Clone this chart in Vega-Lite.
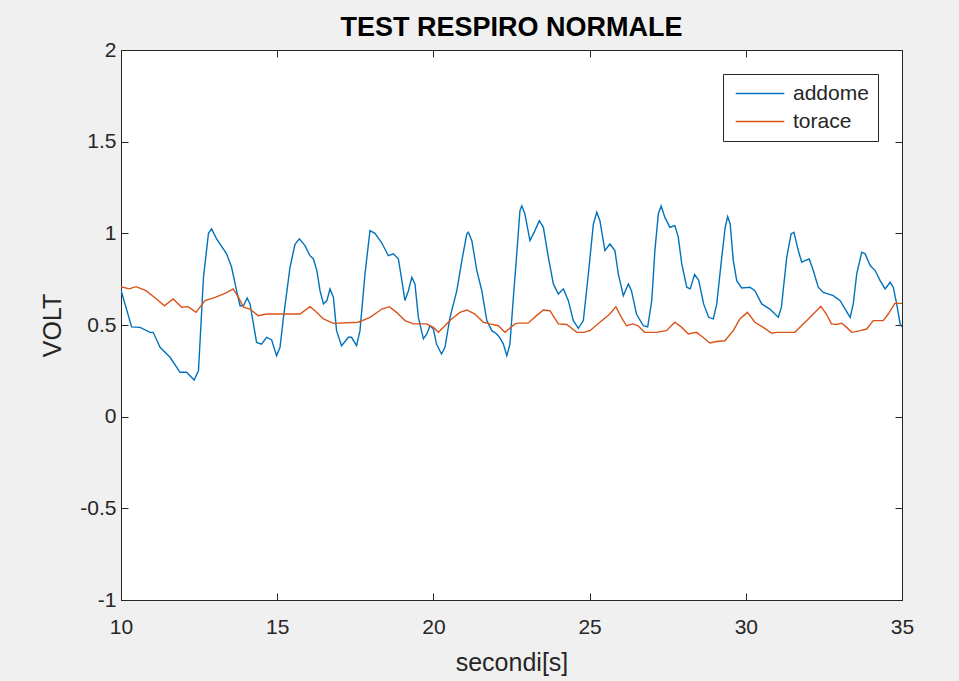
{
  "$schema": "https://vega.github.io/schema/vega-lite/v6.json",
  "autosize": "none",
  "width": 781,
  "height": 550,
  "padding": {"left": 121, "top": 50, "right": 57, "bottom": 81},
  "background": "#f0f0f0",
  "config": {
    "view": {"fill": "white", "stroke": "#262626", "strokeWidth": 1},
    "font": "Liberation Sans",
    "axis": {
      "grid": false,
      "domainColor": "#262626",
      "tickColor": "#262626",
      "tickSize": -7,
      "labelColor": "#262626",
      "labelFontSize": 21,
      "labelFont": "Liberation Sans",
      "titleFont": "Liberation Sans",
      "titleFontSize": 25,
      "titleFontWeight": "normal",
      "titleColor": "#262626"
    }
  },
  "title": {
    "text": "TEST RESPIRO NORMALE",
    "fontSize": 27,
    "fontWeight": "bold",
    "font": "Liberation Sans",
    "color": "#000000",
    "offset": -3
  },
  "datasets": {
    "addome": [
      {"t":10.0,"v":0.69,"s":"addome"},{"t":10.34,"v":0.49,"s":"addome"},{"t":10.61,"v":0.487,"s":"addome"},{"t":10.93,"v":0.46,"s":"addome"},{"t":11.03,"v":0.46,"s":"addome"},{"t":11.25,"v":0.378,"s":"addome"},{"t":11.57,"v":0.324,"s":"addome"},{"t":11.89,"v":0.242,"s":"addome"},{"t":12.1,"v":0.242,"s":"addome"},{"t":12.34,"v":0.2,"s":"addome"},{"t":12.48,"v":0.25,"s":"addome"},{"t":12.64,"v":0.76,"s":"addome"},{"t":12.8,"v":1.0,"s":"addome"},{"t":12.9,"v":1.024,"s":"addome"},{"t":13.06,"v":0.97,"s":"addome"},{"t":13.38,"v":0.888,"s":"addome"},{"t":13.54,"v":0.815,"s":"addome"},{"t":13.7,"v":0.687,"s":"addome"},{"t":13.81,"v":0.605,"s":"addome"},{"t":13.92,"v":0.605,"s":"addome"},{"t":14.04,"v":0.647,"s":"addome"},{"t":14.13,"v":0.615,"s":"addome"},{"t":14.34,"v":0.405,"s":"addome"},{"t":14.5,"v":0.396,"s":"addome"},{"t":14.66,"v":0.433,"s":"addome"},{"t":14.82,"v":0.42,"s":"addome"},{"t":14.98,"v":0.333,"s":"addome"},{"t":15.09,"v":0.378,"s":"addome"},{"t":15.2,"v":0.54,"s":"addome"},{"t":15.41,"v":0.815,"s":"addome"},{"t":15.57,"v":0.94,"s":"addome"},{"t":15.71,"v":0.97,"s":"addome"},{"t":15.89,"v":0.933,"s":"addome"},{"t":16.05,"v":0.878,"s":"addome"},{"t":16.16,"v":0.86,"s":"addome"},{"t":16.27,"v":0.797,"s":"addome"},{"t":16.37,"v":0.687,"s":"addome"},{"t":16.48,"v":0.615,"s":"addome"},{"t":16.59,"v":0.633,"s":"addome"},{"t":16.69,"v":0.697,"s":"addome"},{"t":16.8,"v":0.651,"s":"addome"},{"t":16.9,"v":0.469,"s":"addome"},{"t":17.06,"v":0.387,"s":"addome"},{"t":17.28,"v":0.433,"s":"addome"},{"t":17.38,"v":0.433,"s":"addome"},{"t":17.54,"v":0.387,"s":"addome"},{"t":17.65,"v":0.469,"s":"addome"},{"t":17.81,"v":0.778,"s":"addome"},{"t":17.97,"v":1.015,"s":"addome"},{"t":18.13,"v":1.0,"s":"addome"},{"t":18.34,"v":0.95,"s":"addome"},{"t":18.56,"v":0.878,"s":"addome"},{"t":18.72,"v":0.888,"s":"addome"},{"t":18.88,"v":0.86,"s":"addome"},{"t":18.99,"v":0.742,"s":"addome"},{"t":19.09,"v":0.633,"s":"addome"},{"t":19.2,"v":0.687,"s":"addome"},{"t":19.31,"v":0.76,"s":"addome"},{"t":19.41,"v":0.724,"s":"addome"},{"t":19.52,"v":0.54,"s":"addome"},{"t":19.68,"v":0.424,"s":"addome"},{"t":19.79,"v":0.451,"s":"addome"},{"t":19.89,"v":0.496,"s":"addome"},{"t":20.0,"v":0.478,"s":"addome"},{"t":20.1,"v":0.396,"s":"addome"},{"t":20.26,"v":0.342,"s":"addome"},{"t":20.37,"v":0.378,"s":"addome"},{"t":20.53,"v":0.54,"s":"addome"},{"t":20.75,"v":0.687,"s":"addome"},{"t":20.91,"v":0.851,"s":"addome"},{"t":21.07,"v":0.997,"s":"addome"},{"t":21.12,"v":1.006,"s":"addome"},{"t":21.23,"v":0.96,"s":"addome"},{"t":21.39,"v":0.797,"s":"addome"},{"t":21.55,"v":0.687,"s":"addome"},{"t":21.71,"v":0.524,"s":"addome"},{"t":21.87,"v":0.469,"s":"addome"},{"t":22.03,"v":0.451,"s":"addome"},{"t":22.13,"v":0.43,"s":"addome"},{"t":22.24,"v":0.396,"s":"addome"},{"t":22.35,"v":0.333,"s":"addome"},{"t":22.45,"v":0.396,"s":"addome"},{"t":22.56,"v":0.651,"s":"addome"},{"t":22.66,"v":0.869,"s":"addome"},{"t":22.77,"v":1.124,"s":"addome"},{"t":22.83,"v":1.15,"s":"addome"},{"t":22.93,"v":1.106,"s":"addome"},{"t":23.09,"v":0.96,"s":"addome"},{"t":23.25,"v":1.015,"s":"addome"},{"t":23.39,"v":1.069,"s":"addome"},{"t":23.52,"v":1.033,"s":"addome"},{"t":23.68,"v":0.869,"s":"addome"},{"t":23.84,"v":0.724,"s":"addome"},{"t":24.0,"v":0.669,"s":"addome"},{"t":24.16,"v":0.697,"s":"addome"},{"t":24.32,"v":0.633,"s":"addome"},{"t":24.48,"v":0.524,"s":"addome"},{"t":24.64,"v":0.482,"s":"addome"},{"t":24.8,"v":0.524,"s":"addome"},{"t":24.96,"v":0.778,"s":"addome"},{"t":25.12,"v":1.05,"s":"addome"},{"t":25.23,"v":1.115,"s":"addome"},{"t":25.33,"v":1.069,"s":"addome"},{"t":25.49,"v":0.906,"s":"addome"},{"t":25.65,"v":0.942,"s":"addome"},{"t":25.81,"v":0.906,"s":"addome"},{"t":25.92,"v":0.778,"s":"addome"},{"t":26.08,"v":0.66,"s":"addome"},{"t":26.24,"v":0.724,"s":"addome"},{"t":26.34,"v":0.687,"s":"addome"},{"t":26.5,"v":0.56,"s":"addome"},{"t":26.72,"v":0.496,"s":"addome"},{"t":26.86,"v":0.49,"s":"addome"},{"t":26.99,"v":0.633,"s":"addome"},{"t":27.09,"v":0.906,"s":"addome"},{"t":27.2,"v":1.106,"s":"addome"},{"t":27.29,"v":1.15,"s":"addome"},{"t":27.41,"v":1.087,"s":"addome"},{"t":27.57,"v":1.033,"s":"addome"},{"t":27.73,"v":1.042,"s":"addome"},{"t":27.84,"v":0.978,"s":"addome"},{"t":27.95,"v":0.833,"s":"addome"},{"t":28.11,"v":0.706,"s":"addome"},{"t":28.22,"v":0.697,"s":"addome"},{"t":28.36,"v":0.775,"s":"addome"},{"t":28.49,"v":0.745,"s":"addome"},{"t":28.65,"v":0.615,"s":"addome"},{"t":28.81,"v":0.542,"s":"addome"},{"t":28.96,"v":0.533,"s":"addome"},{"t":29.07,"v":0.615,"s":"addome"},{"t":29.23,"v":0.869,"s":"addome"},{"t":29.34,"v":1.033,"s":"addome"},{"t":29.42,"v":1.091,"s":"addome"},{"t":29.5,"v":1.051,"s":"addome"},{"t":29.6,"v":0.851,"s":"addome"},{"t":29.71,"v":0.742,"s":"addome"},{"t":29.87,"v":0.702,"s":"addome"},{"t":30.13,"v":0.706,"s":"addome"},{"t":30.29,"v":0.687,"s":"addome"},{"t":30.51,"v":0.615,"s":"addome"},{"t":30.77,"v":0.587,"s":"addome"},{"t":31.04,"v":0.542,"s":"addome"},{"t":31.14,"v":0.597,"s":"addome"},{"t":31.31,"v":0.869,"s":"addome"},{"t":31.45,"v":0.997,"s":"addome"},{"t":31.54,"v":1.006,"s":"addome"},{"t":31.68,"v":0.906,"s":"addome"},{"t":31.79,"v":0.842,"s":"addome"},{"t":31.89,"v":0.851,"s":"addome"},{"t":32.03,"v":0.86,"s":"addome"},{"t":32.16,"v":0.797,"s":"addome"},{"t":32.32,"v":0.706,"s":"addome"},{"t":32.48,"v":0.678,"s":"addome"},{"t":32.8,"v":0.66,"s":"addome"},{"t":33.02,"v":0.633,"s":"addome"},{"t":33.18,"v":0.587,"s":"addome"},{"t":33.34,"v":0.542,"s":"addome"},{"t":33.44,"v":0.615,"s":"addome"},{"t":33.55,"v":0.778,"s":"addome"},{"t":33.71,"v":0.897,"s":"addome"},{"t":33.82,"v":0.888,"s":"addome"},{"t":33.98,"v":0.824,"s":"addome"},{"t":34.14,"v":0.797,"s":"addome"},{"t":34.3,"v":0.742,"s":"addome"},{"t":34.46,"v":0.697,"s":"addome"},{"t":34.62,"v":0.733,"s":"addome"},{"t":34.72,"v":0.706,"s":"addome"},{"t":34.83,"v":0.615,"s":"addome"},{"t":34.94,"v":0.506,"s":"addome"},{"t":35.0,"v":0.49,"s":"addome"}
    ],
    "torace": [
      {"t":10.0,"v":0.709,"s":"torace"},{"t":10.26,"v":0.697,"s":"torace"},{"t":10.48,"v":0.709,"s":"torace"},{"t":10.8,"v":0.687,"s":"torace"},{"t":11.07,"v":0.651,"s":"torace"},{"t":11.39,"v":0.605,"s":"torace"},{"t":11.67,"v":0.642,"s":"torace"},{"t":11.94,"v":0.597,"s":"torace"},{"t":12.15,"v":0.6,"s":"torace"},{"t":12.4,"v":0.569,"s":"torace"},{"t":12.69,"v":0.633,"s":"torace"},{"t":13.01,"v":0.651,"s":"torace"},{"t":13.33,"v":0.673,"s":"torace"},{"t":13.59,"v":0.697,"s":"torace"},{"t":13.76,"v":0.651,"s":"torace"},{"t":13.92,"v":0.597,"s":"torace"},{"t":14.13,"v":0.587,"s":"torace"},{"t":14.39,"v":0.551,"s":"torace"},{"t":14.66,"v":0.56,"s":"torace"},{"t":15.73,"v":0.56,"s":"torace"},{"t":16.05,"v":0.6,"s":"torace"},{"t":16.21,"v":0.578,"s":"torace"},{"t":16.48,"v":0.533,"s":"torace"},{"t":16.8,"v":0.509,"s":"torace"},{"t":17.6,"v":0.515,"s":"torace"},{"t":17.97,"v":0.542,"s":"torace"},{"t":18.35,"v":0.587,"s":"torace"},{"t":18.59,"v":0.6,"s":"torace"},{"t":18.82,"v":0.569,"s":"torace"},{"t":19.09,"v":0.524,"s":"torace"},{"t":19.36,"v":0.506,"s":"torace"},{"t":19.78,"v":0.506,"s":"torace"},{"t":20.0,"v":0.487,"s":"torace"},{"t":20.16,"v":0.46,"s":"torace"},{"t":20.37,"v":0.496,"s":"torace"},{"t":20.58,"v":0.533,"s":"torace"},{"t":20.85,"v":0.569,"s":"torace"},{"t":21.07,"v":0.582,"s":"torace"},{"t":21.33,"v":0.56,"s":"torace"},{"t":21.6,"v":0.515,"s":"torace"},{"t":21.81,"v":0.506,"s":"torace"},{"t":22.08,"v":0.496,"s":"torace"},{"t":22.29,"v":0.46,"s":"torace"},{"t":22.61,"v":0.506,"s":"torace"},{"t":22.72,"v":0.51,"s":"torace"},{"t":23.03,"v":0.51,"s":"torace"},{"t":23.3,"v":0.551,"s":"torace"},{"t":23.52,"v":0.582,"s":"torace"},{"t":23.73,"v":0.578,"s":"torace"},{"t":24.0,"v":0.506,"s":"torace"},{"t":24.27,"v":0.503,"s":"torace"},{"t":24.59,"v":0.46,"s":"torace"},{"t":24.8,"v":0.46,"s":"torace"},{"t":25.01,"v":0.469,"s":"torace"},{"t":25.33,"v":0.515,"s":"torace"},{"t":25.65,"v":0.56,"s":"torace"},{"t":25.84,"v":0.6,"s":"torace"},{"t":26.02,"v":0.542,"s":"torace"},{"t":26.18,"v":0.496,"s":"torace"},{"t":26.39,"v":0.506,"s":"torace"},{"t":26.55,"v":0.496,"s":"torace"},{"t":26.76,"v":0.46,"s":"torace"},{"t":27.14,"v":0.46,"s":"torace"},{"t":27.46,"v":0.469,"s":"torace"},{"t":27.73,"v":0.515,"s":"torace"},{"t":27.95,"v":0.487,"s":"torace"},{"t":28.16,"v":0.451,"s":"torace"},{"t":28.42,"v":0.46,"s":"torace"},{"t":28.63,"v":0.433,"s":"torace"},{"t":28.85,"v":0.402,"s":"torace"},{"t":29.06,"v":0.41,"s":"torace"},{"t":29.33,"v":0.414,"s":"torace"},{"t":29.6,"v":0.469,"s":"torace"},{"t":29.81,"v":0.533,"s":"torace"},{"t":30.05,"v":0.569,"s":"torace"},{"t":30.29,"v":0.515,"s":"torace"},{"t":30.56,"v":0.487,"s":"torace"},{"t":30.83,"v":0.455,"s":"torace"},{"t":30.98,"v":0.46,"s":"torace"},{"t":31.57,"v":0.46,"s":"torace"},{"t":31.84,"v":0.506,"s":"torace"},{"t":32.16,"v":0.56,"s":"torace"},{"t":32.4,"v":0.602,"s":"torace"},{"t":32.58,"v":0.56,"s":"torace"},{"t":32.74,"v":0.506,"s":"torace"},{"t":32.9,"v":0.503,"s":"torace"},{"t":33.07,"v":0.51,"s":"torace"},{"t":33.23,"v":0.487,"s":"torace"},{"t":33.39,"v":0.46,"s":"torace"},{"t":33.66,"v":0.469,"s":"torace"},{"t":33.87,"v":0.478,"s":"torace"},{"t":34.08,"v":0.524,"s":"torace"},{"t":34.4,"v":0.524,"s":"torace"},{"t":34.56,"v":0.56,"s":"torace"},{"t":34.77,"v":0.618,"s":"torace"},{"t":35.0,"v":0.618,"s":"torace"}
    ]
  },
  "layer": [
    {
      "data": {"name": "addome"},
      "mark": {"type": "line", "strokeWidth": 1.4, "clip": true},
      "encoding": {
        "x": {"field": "t", "type": "quantitative", "scale": {"domain": [10, 35], "nice": false, "zero": false},
              "axis": {"orient": "bottom", "title": "secondi[s]", "values": [10,15,20,25,30,35], "labelPadding": 23, "titlePadding": 13, "labelFlush": false}},
        "y": {"field": "v", "type": "quantitative", "scale": {"domain": [-1, 2], "nice": false, "zero": false},
              "axis": {"orient": "left", "title": "VOLT", "values": [-1,-0.5,0,0.5,1,1.5,2], "labelExpr": "datum.value + ''", "labelPadding": 12, "titlePadding": 14, "labelFlush": false}},
        "color": {"field": "s", "type": "nominal",
                  "scale": {"domain": ["addome", "torace"], "range": ["#0072BD", "#D95319"]},
                  "legend": {"title": null, "orient": "top-right", "offset": 24,
                             "symbolType": "M-1,0H6.2", "symbolSize": 182, "symbolStrokeWidth": 1.5,
                             "labelFontSize": 21, "labelColor": "#262626", "labelFont": "Liberation Sans",
                             "strokeColor": "#262626", "fillColor": "white", "padding": 9, "labelOffset": 40,
                             "rowPadding": 6}}
      }
    },
    {
      "data": {"name": "torace"},
      "mark": {"type": "line", "strokeWidth": 1.4, "clip": true},
      "encoding": {
        "x": {"field": "t", "type": "quantitative", "scale": {"domain": [10, 35], "nice": false, "zero": false},
              "axis": {"orient": "top", "title": null, "labels": false, "values": [10,15,20,25,30,35]}},
        "y": {"field": "v", "type": "quantitative", "scale": {"domain": [-1, 2], "nice": false, "zero": false},
              "axis": {"orient": "right", "title": null, "labels": false, "values": [-1,-0.5,0,0.5,1,1.5,2]}},
        "color": {"field": "s", "type": "nominal"}
      }
    }
  ],
  "resolve": {"axis": {"x": "independent", "y": "independent"}}
}
